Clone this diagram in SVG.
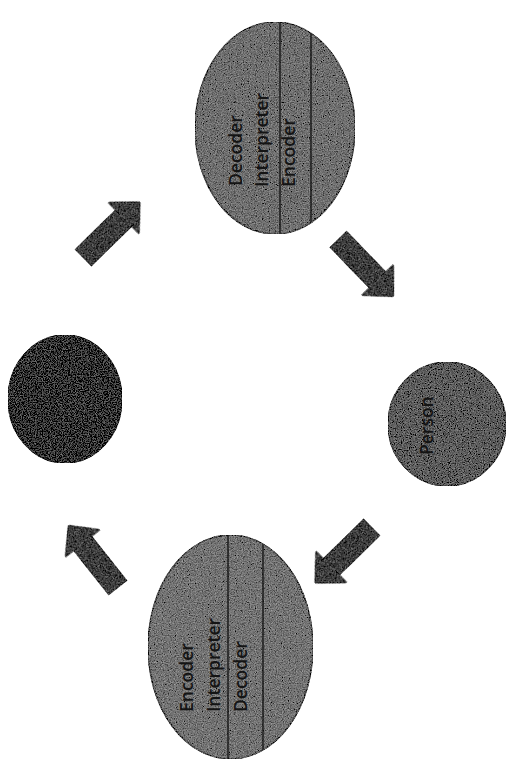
<svg xmlns="http://www.w3.org/2000/svg" width="507" height="765" viewBox="0 0 507 765">
  <style>
    .lbl { font-family: "Open Sans", "Liberation Sans", sans-serif; font-size: 17.5px; font-weight: 600; fill: #141414; }
    .div { stroke: #161616; stroke-width: 1.4; fill: none; }
    .arrow { fill: #3d3d3d; stroke: #262626; stroke-width: 1.2; stroke-linejoin: miter; }
  </style>
  <defs>
    <filter id="grain" filterUnits="objectBoundingBox" x="0" y="0" width="1" height="1">
      <feTurbulence type="fractalNoise" baseFrequency="0.85" numOctaves="2" seed="7" result="noise"/>
      <feColorMatrix in="noise" type="matrix" values="0.33 0.33 0.33 0 0  0.33 0.33 0.33 0 0  0.33 0.33 0.33 0 0  0 0 0 0 1" result="gray"/>
      <feComposite in="SourceGraphic" in2="gray" operator="arithmetic" k1="0" k2="1" k3="0.9" k4="-0.45" result="mix"/>
      <feComposite in="mix" in2="SourceGraphic" operator="in"/>
    </filter>
    <path id="blk" d="M0,-11.5 L57,-11.5 L57,-22 L80,0 L57,22 L57,11.5 L0,11.5 Z"/>
    <clipPath id="clipTop"><ellipse cx="275" cy="128" rx="80" ry="106"/></clipPath>
    <clipPath id="clipBot"><ellipse cx="230.5" cy="647" rx="82.5" ry="112"/></clipPath>
  </defs>
  <rect width="507" height="765" fill="#ffffff"/>

  <g id="node-top">
    <ellipse cx="275" cy="128" rx="80" ry="106" fill="#707070" stroke="#4a4a4a" stroke-width="1.5" filter="url(#grain)"/>
    <g clip-path="url(#clipTop)">
      <line class="div" x1="280" y1="18" x2="280" y2="240"/>
      <line class="div" x1="311" y1="18" x2="311" y2="240"/>
    </g>
    <text class="lbl" transform="translate(242,186) rotate(-90)">Decoder</text>
    <text class="lbl" transform="translate(268,187) rotate(-90)">Interpreter</text>
    <text class="lbl" transform="translate(295,187) rotate(-90)">Encoder</text>
  </g>

  <g id="node-bottom">
    <ellipse cx="230.5" cy="647" rx="82.5" ry="112" fill="#747474" stroke="#4a4a4a" stroke-width="1.5" filter="url(#grain)"/>
    <g clip-path="url(#clipBot)">
      <line class="div" x1="228" y1="530" x2="228" y2="765"/>
      <line class="div" x1="263" y1="530" x2="263" y2="765"/>
    </g>
    <text class="lbl" transform="translate(193,712) rotate(-90)">Encoder</text>
    <text class="lbl" transform="translate(220,712) rotate(-90)">Interpreter</text>
    <text class="lbl" transform="translate(247,712) rotate(-90)">Decoder</text>
  </g>

  <g id="node-person">
    <ellipse cx="447" cy="424" rx="59" ry="62" fill="#5e5e5e" stroke="#444444" stroke-width="1.5" filter="url(#grain)"/>
    <text class="lbl" transform="translate(433,455) rotate(-90)">Person</text>
  </g>

  <g id="node-left">
    <ellipse cx="65" cy="399" rx="57" ry="64" fill="#363636" stroke="#222222" stroke-width="1.5" filter="url(#grain)"/>
  </g>

  <g id="connectors">
    <use href="#blk" class="arrow" transform="translate(83,258) rotate(-44.5)" filter="url(#grain)"/>
    <use href="#blk" class="arrow" transform="translate(338,239) rotate(46)" filter="url(#grain)"/>
    <use href="#blk" class="arrow" transform="translate(372,527) rotate(135.5)" filter="url(#grain)"/>
    <use href="#blk" class="arrow" transform="translate(118,588) rotate(231.6)" filter="url(#grain)"/>
  </g>
</svg>
